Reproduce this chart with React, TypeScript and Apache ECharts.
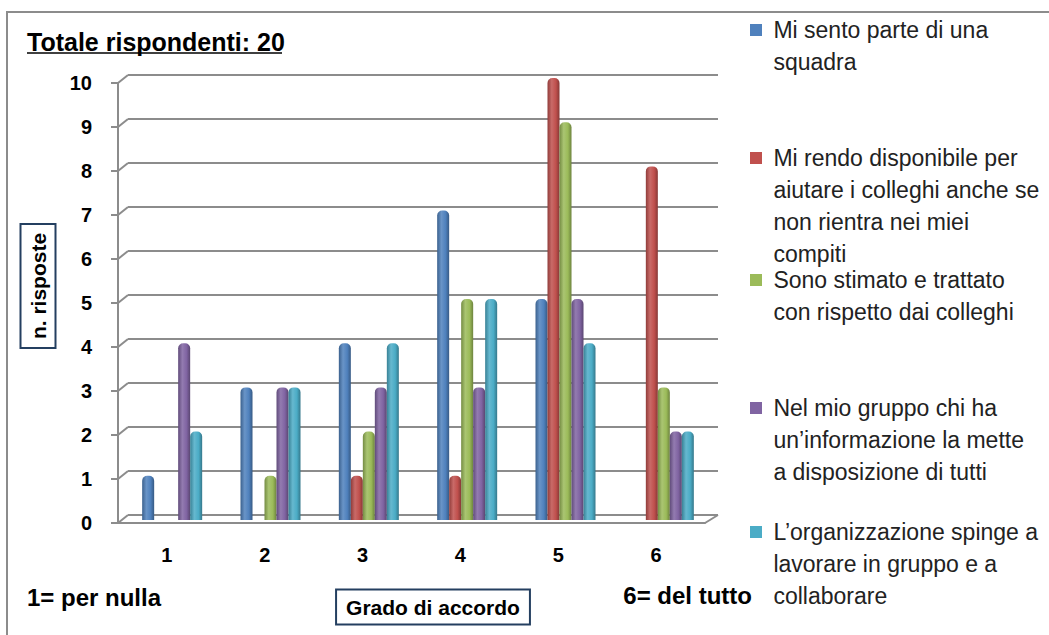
import React, { useEffect, useRef } from 'react';
import * as echarts from 'echarts';

const categories = ['1', '2', '3', '4', '5', '6'];
const yTicks = [0, 1, 2, 3, 4, 5, 6, 7, 8, 9, 10];
const seriesNames = [
  'Mi sento parte di una squadra',
  'Mi rendo disponibile per aiutare i colleghi anche se non rientra nei miei compiti',
  'Sono stimato e trattato con rispetto dai colleghi',
  'Nel mio gruppo chi ha un’informazione la mette a disposizione di tutti',
  'L’organizzazione spinge a lavorare in gruppo e a collaborare',
];
const legendLines = [
  ['Mi sento parte di una', 'squadra'],
  ['Mi rendo disponibile per', 'aiutare i colleghi anche se', 'non rientra nei miei', 'compiti'],
  ['Sono stimato e trattato', 'con rispetto dai colleghi'],
  ['Nel mio gruppo chi ha', 'un’informazione la mette', 'a disposizione di tutti'],
  ['L’organizzazione spinge a', 'lavorare in gruppo e a', 'collaborare'],
];
const squadra = [1, 3, 4, 7, 5, 0];
const disponibile = [0, 0, 1, 1, 10, 8];
const stimato = [0, 1, 2, 5, 9, 3];
const informazione = [4, 3, 3, 3, 5, 2];
const organizzazione = [2, 3, 4, 5, 4, 2];
const seriesValues = [squadra, disponibile, stimato, informazione, organizzazione];
const titleText = 'Totale rispondenti: 20';
const yAxisName = 'n. risposte';
const xAxisName = 'Grado di accordo';
const leftNote = '1= per nulla';
const rightNote = '6= del tutto';

const colors = ['#4F81BD', '#C0504D', '#9BBB59', '#8064A2', '#4BACC6'];
const FONT = "'Liberation Sans', Arial, sans-serif";

function shade(hex: string, f: number) {
  const n = parseInt(hex.slice(1), 16);
  const r = (n >> 16) & 255, g = (n >> 8) & 255, b = n & 255;
  const m = (c: number) => (f < 0 ? Math.round(c * (1 + f)) : Math.round(c + (255 - c) * f));
  return `rgb(${m(r)},${m(g)},${m(b)})`;
}

export default function App() {
  const ref = useRef<HTMLDivElement>(null);
  useEffect(() => {
    if (!ref.current) return;
    const chart = echarts.init(ref.current, null, { renderer: 'svg' });
    const LH = 32;
    const firstLineY = [30, 158, 280, 408, 532];
    const grid = '#8c8c8c';
    const DX = 10;
    const DY = 8;
    const option: any = {
      animation: false,
      backgroundColor: '#fff',
      title: {
        text: titleText,
        left: 27,
        top: 29,
        padding: 0,
        textStyle: { fontFamily: FONT, fontSize: 25, fontWeight: 'bold', color: '#000' },
      },
      legend: seriesNames.map((name, i) => ({
        data: [{ name, itemStyle: { color: colors[i] } }],
        orient: 'vertical',
        left: 750,
        top: firstLineY[i] - (legendLines[i].length - 0.5) * LH,
        padding: 0,
        itemWidth: 12,
        itemHeight: 12,
        icon: 'rect',
        selectedMode: false,
        formatter: () => ' \n'.repeat(legendLines[i].length - 1) + legendLines[i].map((l) => ' ' + l).join('\n'),
        textStyle: {
          fontFamily: FONT,
          fontSize: 23,
          lineHeight: LH,
          color: '#222',
        },
      })),
      grid: [
        { left: 128, right: 331, top: 75, height: 440 },
        { left: 118, right: 344, top: 83, height: 440 },
        { left: 123, right: 336, top: 78, height: 442 },
      ],
      xAxis: [
        { gridIndex: 0, type: 'category', data: categories, show: false },
        {
          gridIndex: 1,
          type: 'category',
          data: categories,
          axisLine: { lineStyle: { color: grid, width: 2 } },
          axisTick: { show: false },
          axisLabel: { fontFamily: FONT, fontSize: 20, fontWeight: 'bold', color: '#000', margin: 22 },
        },
        { gridIndex: 2, type: 'category', data: categories, show: false },
      ],
      yAxis: [
        {
          gridIndex: 0, type: 'value', min: 0, max: 10, interval: 1,
          axisLine: { show: false }, axisTick: { show: false }, axisLabel: { show: false },
          splitLine: { lineStyle: { color: grid, width: 2 } },
        },
        {
          gridIndex: 1, type: 'value', min: 0, max: 10, interval: 1,
          axisLine: { show: true, lineStyle: { color: grid, width: 2 } },
          axisTick: { show: true, length: 7, lineStyle: { color: grid, width: 2 } },
          axisLabel: { fontFamily: FONT, fontSize: 20, fontWeight: 'bold', color: '#000', margin: 26 },
          splitLine: { show: false },
        },
        { gridIndex: 2, type: 'value', min: 0, max: 10, interval: 1, show: false, splitLine: { show: false } },
      ],
      series: [
        {
          type: 'custom',
          name: 'connectors',
          xAxisIndex: 1,
          yAxisIndex: 1,
          silent: true,
          z: 1,
          data: yTicks.map((v) => [0, v]),
          renderItem: (params: any, api: any) => {
            const v = api.value(1);
            const c = api.coord([0, v]);
            const w = api.size([1, 0])[0];
            const x0 = c[0] - w / 2;
            const children: any[] = [
              {
                type: 'line',
                shape: { x1: x0, y1: c[1], x2: x0 + DX, y2: c[1] - DY },
                style: { stroke: grid, lineWidth: 2 },
              },
            ];
            if (v === 0) {
              const xr = x0 + w * categories.length;
              children.push({
                type: 'line',
                shape: { x1: xr, y1: c[1], x2: xr + DX + 3, y2: c[1] - DY },
                style: { stroke: grid, lineWidth: 2 },
              });
            }
            return { type: 'group', children };
          },
        },
        ...seriesValues.map((vals, i) => ({
          type: 'bar',
          name: seriesNames[i],
          xAxisIndex: 2,
          yAxisIndex: 2,
          data: vals,
          barWidth: 12,
          barGap: '0%',
          z: 3,
          itemStyle: {
            borderRadius: [5, 5, 0, 0],
            color: new echarts.graphic.LinearGradient(0, 0, 1, 0, [
              { offset: 0, color: shade(colors[i], -0.25) },
              { offset: 0.35, color: shade(colors[i], 0.15) },
              { offset: 0.7, color: colors[i] },
              { offset: 1, color: shade(colors[i], -0.3) },
            ]),
          },
        })),
      ],
      graphic: [
        {
          type: 'rect', silent: true,
          shape: { x: 7, y: 12, width: 1100, height: 700 },
          style: { fill: 'none', stroke: grid, lineWidth: 2 },
        },
        {
          type: 'line', silent: true,
          shape: { x1: 27, y1: 53, x2: 282, y2: 53 },
          style: { stroke: '#000', lineWidth: 1.5 },
        },
        {
          type: 'text', x: 38, y: 286, rotation: Math.PI / 2,
          style: {
            text: yAxisName, font: `bold 21px ${FONT}`, fill: '#000',
            align: 'center', verticalAlign: 'middle',
            borderColor: '#243F60', borderWidth: 2, padding: [7, 9],
          },
        },
        {
          type: 'text', x: 433, y: 607,
          style: {
            text: xAxisName, font: `bold 21px ${FONT}`, fill: '#000',
            align: 'center', verticalAlign: 'middle',
            borderColor: '#243F60', borderWidth: 2, padding: [7, 10],
          },
        },
        {
          type: 'text', x: 27, y: 597,
          style: { text: leftNote, font: `bold 24px ${FONT}`, fill: '#000', align: 'left', verticalAlign: 'middle' },
        },
        {
          type: 'text', x: 752, y: 595,
          style: { text: rightNote, font: `bold 24px ${FONT}`, fill: '#000', align: 'right', verticalAlign: 'middle' },
        },
      ],
    };
    chart.setOption(option);
    return () => chart.dispose();
  }, []);
  return (
    <div
      ref={ref}
      style={{ position: 'fixed', left: 0, top: 0, width: 1049, height: 635, background: '#fff' }}
    />
  );
}
